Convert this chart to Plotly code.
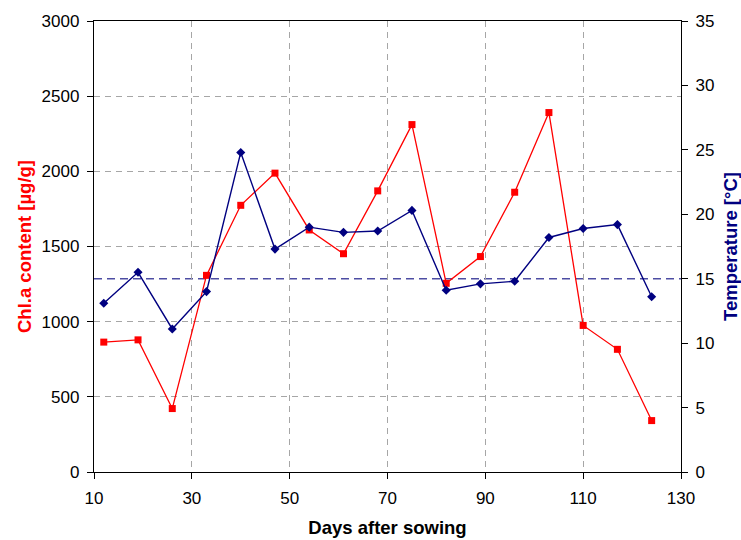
import plotly.graph_objects as go

# Sampling days after sowing
days = [12, 19, 26, 33, 40, 47, 54, 61, 68, 75, 82, 89, 96, 103, 110, 117, 124]

# Chlorophyll a content [µg/g]
chla = [864, 879, 422, 1308, 1774, 1988, 1610, 1452, 1870, 2311, 1255, 1433,
        1861, 2391, 975, 816, 342]

# Air temperature [°C]
temperature = [13.1, 15.5, 11.1, 14.0, 24.8, 17.3, 19.0, 18.6, 18.7, 20.3,
               14.1, 14.6, 14.8, 18.2, 18.9, 19.2, 13.6]

# Reference temperature level
temp_ref = 15

x_ticks = [10, 30, 50, 70, 90, 110, 130]
y_ticks = [0, 500, 1000, 1500, 2000, 2500, 3000]
y2_ticks = [0, 5, 10, 15, 20, 25, 30, 35]

RED = "#ff0000"
NAVY = "#000080"
GRID = "#a6a6a6"
FONT = "Liberation Sans, Arial, sans-serif"

fig = go.Figure()

fig.add_trace(go.Scatter(
    x=days, y=chla, mode="lines+markers", name="Chl.a",
    line=dict(color=RED, width=1.3),
    marker=dict(symbol="square", size=7, color=RED),
    yaxis="y",
))

fig.add_trace(go.Scatter(
    x=days, y=temperature, mode="lines+markers", name="Temperature",
    line=dict(color=NAVY, width=1.4),
    marker=dict(symbol="diamond", size=7, color=NAVY),
    yaxis="y2",
))

fig.add_shape(
    type="line", xref="paper", x0=0, x1=1, yref="y2", y0=temp_ref, y1=temp_ref,
    line=dict(color="#4d4da3", width=1.5, dash="8px,5px"), layer="between",
)

tickfont = dict(family=FONT, size=17, color="black")

fig.update_layout(
    width=741, height=540,
    margin=dict(l=94, r=60, t=21, b=68),
    paper_bgcolor="white", plot_bgcolor="white",
    showlegend=False,
    font=dict(family=FONT, color="black"),
    xaxis=dict(
        range=[10, 130], tickmode="array", tickvals=x_ticks,
        ticks="outside", ticklen=6, tickcolor="black", tickwidth=1,
        ticklabelstandoff=4, automargin=False,
        showline=True, linecolor="black", linewidth=1.3, mirror=True,
        showgrid=True, gridcolor=GRID, gridwidth=1, griddash="6px,5px",
        zeroline=False, tickfont=tickfont,
        title=dict(text="<b>Days after sowing</b>",
                   font=dict(family=FONT, size=18.5, color="black"),
                   standoff=14),
    ),
    yaxis=dict(
        range=[0, 3000], tickmode="array", tickvals=y_ticks,
        ticks="outside", ticklen=6, tickcolor="black", tickwidth=1,
        ticklabelstandoff=4, automargin=False,
        showline=True, linecolor="black", linewidth=1.3,
        showgrid=True, gridcolor=GRID, gridwidth=1, griddash="6px,5px",
        zeroline=False, tickfont=tickfont,
        title=dict(text="<b>Chl.a content [µg/g]</b>",
                   font=dict(family=FONT, size=18.5, color=RED),
                   standoff=5),
    ),
    yaxis2=dict(
        range=[0, 35], tickmode="array", tickvals=y2_ticks,
        overlaying="y", side="right",
        ticks="outside", ticklen=6, tickcolor="black", tickwidth=1,
        ticklabelstandoff=4, automargin=False,
        showline=True, linecolor="black", linewidth=1.3,
        showgrid=False, zeroline=False, tickfont=tickfont,
        title=dict(text="<b>Temperature [°C]</b>",
                   font=dict(family=FONT, size=18.5, color=NAVY),
                   standoff=12),
    ),
)

fig.write_html("out.html")
